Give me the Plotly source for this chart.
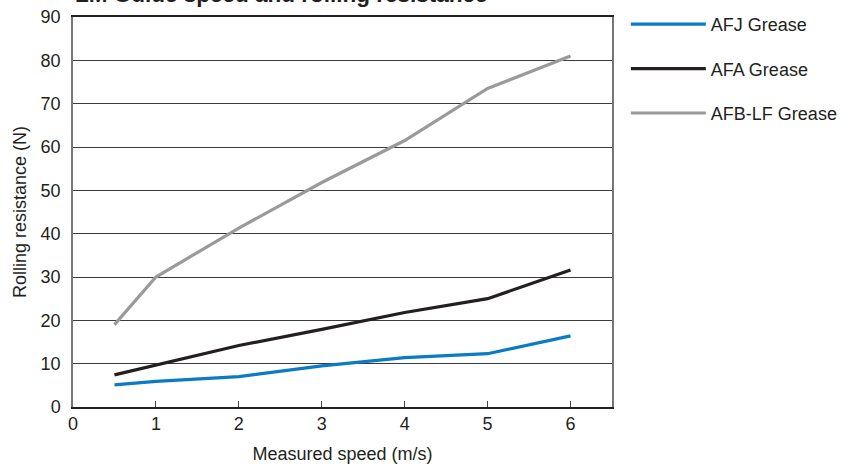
import plotly.graph_objects as go

speed = [0.5, 1, 2, 3, 4, 5, 6]
afj = [5.1, 5.9, 7.0, 9.5, 11.4, 12.3, 16.4]
afa = [7.4, 9.7, 14.2, 17.9, 21.8, 25.0, 31.6]
afb = [19.0, 30.0, 41.3, 51.8, 61.5, 73.5, 81.0]

series = [
    ("AFJ Grease", afj, "#0a7bc4"),
    ("AFA Grease", afa, "#231f20"),
    ("AFB-LF Grease", afb, "#999a9c"),
]

title_text = "LM Guide speed and rolling resistance"
x_title = "Measured speed (m/s)"
y_title = "Rolling resistance (N)"

FONT = "Liberation Sans, Arial, sans-serif"

fig = go.Figure()
for i, (name, vals, col) in enumerate(series):
    fig.add_trace(go.Scatter(
        x=speed, y=vals, name=name, mode="lines",
        line=dict(color=col, width=3.2),
        legendgroup=f"g{i}",
    ))

fig.update_layout(
    width=848, height=464,
    margin=dict(l=73.3, r=236.3, t=17.3, b=57.3, autoexpand=False),
    paper_bgcolor="white", plot_bgcolor="white",
    font=dict(family=FONT, size=18, color="#231f20"),
    showlegend=True,
    legend=dict(
        x=1.0257, y=1.0282, xanchor="left", yanchor="top",
        itemwidth=75, tracegroupgap=18,
        font=dict(size=18, color="#231f20"),
        bgcolor="rgba(0,0,0,0)",
    ),
    xaxis=dict(
        range=[0, 6.5], tickvals=[0, 1, 2, 3, 4, 5, 6],
        ticks="inside", ticklen=6, tickcolor="#444",
        showline=True, linecolor="#231f20", linewidth=1.5, mirror=True,
        showgrid=False, zeroline=False, automargin=False,
        title=dict(text=x_title, font=dict(size=18)),
        tickfont=dict(size=18),
    ),
    yaxis=dict(
        range=[0, 90], tickvals=list(range(0, 91, 10)),
        ticks="outside", ticklen=7, tickcolor="rgba(0,0,0,0)",
        showline=True, linecolor="#777", linewidth=1.5, mirror=True,
        showgrid=True, gridcolor="#3a3a3a", gridwidth=1,
        zeroline=False, automargin=True,
        title=dict(text=y_title, font=dict(size=18), standoff=9),
        tickfont=dict(size=18),
    ),
    annotations=[dict(
        text=f"<b>{title_text}</b>", xref="paper", yref="paper",
        x=0.0, y=1.02, xanchor="left", yanchor="bottom",
        showarrow=False, font=dict(size=22.5, color="#231f20"),
    )],
)

fig.write_html("out.html", config={"displayModeBar": False},
               post_script="document.body.style.margin='0';")
